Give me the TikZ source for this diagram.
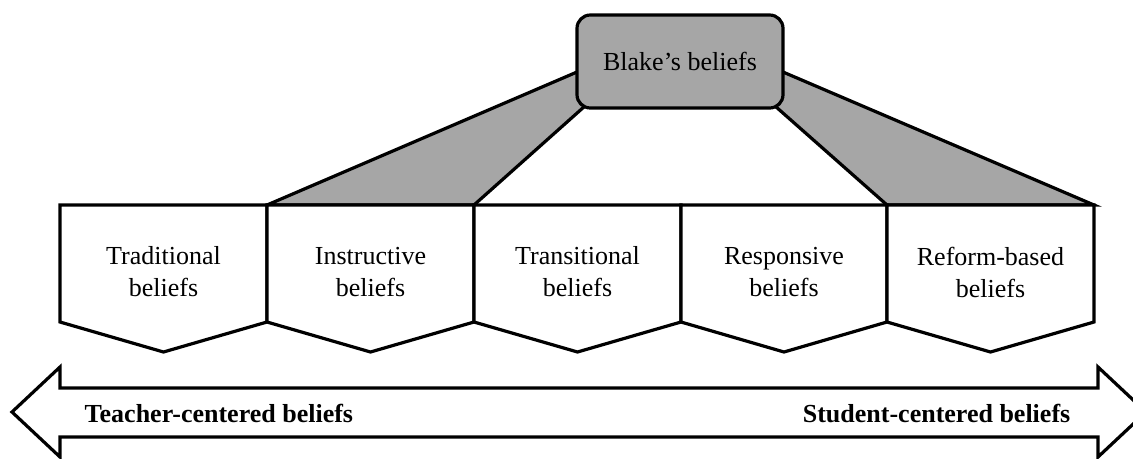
\documentclass[tikz,border=0pt]{standalone}
\usepackage{fontspec}
\setmainfont{Liberation Serif}
\usetikzlibrary{positioning}
\definecolor{beliefgray}{RGB}{166,166,166}
\tikzset{
  outline/.style={draw=black, line width=2.4pt, line join=miter},
  wedge/.style={outline, fill=beliefgray},
  beliefbox/.style={outline, fill=white},
  beliefname/.style={align=center, font=\fontsize{19.5}{24}\selectfont},
  blakebox/.style={outline, fill=beliefgray, rounded corners=10pt, minimum width=154.5pt, minimum height=69.75pt, font=\fontsize{19.5}{24}\selectfont},
  endname/.style={font=\fontsize{19.5}{24}\selectfont\bfseries}
}

\begin{document}
\begin{tikzpicture}[x=0.75pt,y=-0.75pt]
\useasboundingbox (0,0) rectangle (1133,458);
% top corners of the five boxes
\coordinate (c0) at (60,205);
\coordinate (c1) at (267,205);
\coordinate (c2) at (474,205);
\coordinate (c3) at (681,205);
\coordinate (c4) at (887,205);
\coordinate (c5) at (1094,205);
% gray wedges behind Blake's box
\draw[wedge] (c1) -- (577,72) -- (585,106) -- (c2) -- cycle;
\draw[wedge] (c4) -- (775,106) -- (783,72) -- (c5) -- cycle;
% belief boxes
\draw[beliefbox] (c0) -- (c1) -- ++(0,117) -- ++(-103.5,30) -- (60,322) -- cycle;
\draw[beliefbox] (c1) -- (c2) -- ++(0,117) -- ++(-103.5,30) -- (267,322) -- cycle;
\draw[beliefbox] (c2) -- (c3) -- ++(0,117) -- ++(-103.5,30) -- (474,322) -- cycle;
\draw[beliefbox] (c3) -- (c4) -- ++(0,117) -- ++(-103,30) -- (681,322) -- cycle;
\draw[beliefbox] (c4) -- (c5) -- ++(0,117) -- ++(-103.5,30) -- (887,322) -- cycle;
\node[beliefname] (trad) at (163.5,272) {Traditional\\beliefs};
\node[beliefname] (instr) at (370.5,272) {Instructive\\beliefs};
\node[beliefname] (trans) at (577.5,272) {Transitional\\beliefs};
\node[beliefname] (resp) at (784,272) {Responsive\\beliefs};
\node[beliefname] (reform) at (990.5,272) {Reform-based\\beliefs};
% Blake's box
\node[blakebox] (blake) at (680,61.5) {Blake's beliefs};
% double arrow
\draw[outline, fill=white] (12,412) -- (60,367) -- (60,388) -- (1098,388) -- (1098,367)
  -- (1146,412) -- (1098,457) -- (1098,437) -- (60,437) -- (60,457) -- cycle;
\node[endname, anchor=west] (teacher) at (80,413) {Teacher-centered beliefs};
\node[endname, anchor=east] (student) at (1075,413) {Student-centered beliefs};
\end{tikzpicture}
\end{document}
